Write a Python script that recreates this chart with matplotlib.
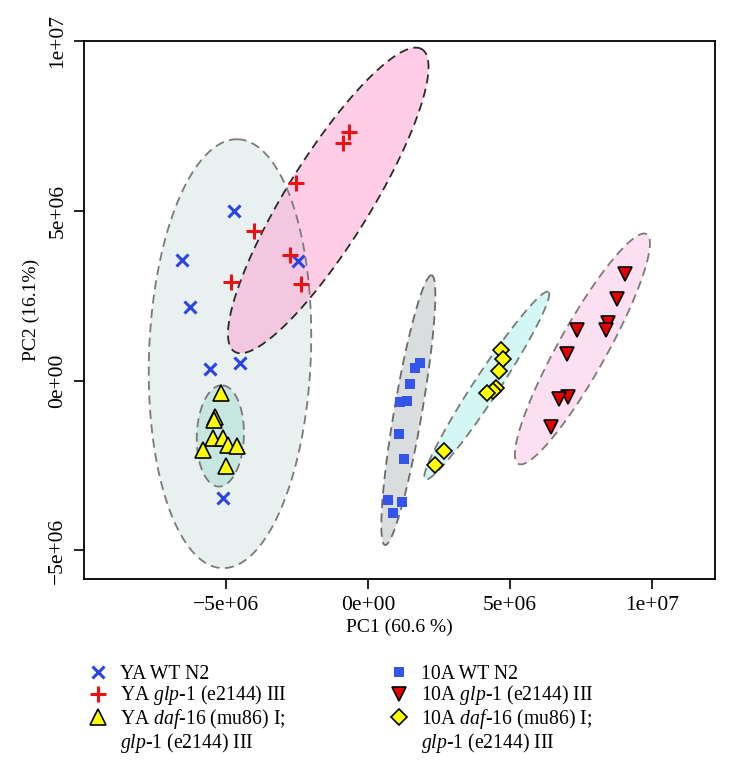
import numpy as np
import matplotlib.pyplot as plt
from matplotlib.lines import Line2D

plt.rcParams['font.family'] = ['Liberation Serif', 'DejaVu Serif']
plt.rcParams['mathtext.fontset'] = 'custom'
plt.rcParams['mathtext.rm'] = 'Liberation Serif'
plt.rcParams['mathtext.it'] = 'Liberation Serif:italic'

# PCA scores (PC1, PC2)
ya_wt_pc1 = [-4.71e6, -6.56e6, -2.45e6, -6.27e6, -5.56e6, -4.51e6, -5.12e6]
ya_wt_pc2 = [4.98e6, 3.54e6, 3.52e6, 2.17e6, 0.33e6, 0.52e6, -3.47e6]

ya_glp_pc1 = [-0.67e6, -0.87e6, -2.54e6, -4.00e6, -2.75e6, -4.82e6, -2.37e6]
ya_glp_pc2 = [7.31e6, 6.99e6, 5.80e6, 4.39e6, 3.69e6, 2.89e6, 2.84e6]

ya_daf_pc1 = [-5.18e6, -5.39e6, -5.42e6, -5.45e6, -5.12e6, -4.92e6, -4.60e6, -5.82e6, -5.00e6]
ya_daf_pc2 = [-0.38e6, -1.07e6, -1.16e6, -1.70e6, -1.70e6, -1.90e6, -1.93e6, -2.03e6, -2.52e6]

a10_wt_pc1 = [1.83e6, 1.66e6, 1.48e6, 1.38e6, 1.13e6, 1.09e6, 1.27e6, 0.72e6, 1.21e6, 0.89e6]
a10_wt_pc2 = [0.52e6, 0.36e6, -0.11e6, -0.60e6, -0.63e6, -1.56e6, -2.32e6, -3.52e6, -3.57e6, -3.91e6]

a10_glp_pc1 = [9.05e6, 8.76e6, 8.46e6, 8.37e6, 7.35e6, 7.00e6, 7.06e6, 6.74e6, 6.44e6]
a10_glp_pc2 = [3.13e6, 2.41e6, 1.68e6, 1.48e6, 1.48e6, 0.78e6, -0.48e6, -0.53e6, -1.36e6]

a10_daf_pc1 = [4.67e6, 4.77e6, 4.62e6, 4.51e6, 4.41e6, 4.18e6, 2.68e6, 2.36e6]
a10_daf_pc2 = [0.91e6, 0.62e6, 0.29e6, -0.23e6, -0.30e6, -0.38e6, -2.07e6, -2.49e6]

# ellipses: centre, end of the long axis, half width (PC1 units)
ell_cx = [-4.86e6, -1.40e6, -5.20e6, 1.42e6, 4.18e6, 7.55e6]
ell_cy = [0.79e6, 5.30e6, -1.63e6, -0.87e6, -0.15e6, 0.93e6]
ell_tx = [-4.58e6, 1.90e6, -5.14e6, 2.24e6, 6.35e6, 9.81e6]
ell_ty = [7.10e6, 9.75e6, -0.14e6, 3.10e6, 2.61e6, 4.31e6]
ell_hw = [2.85e6, 1.48e6, 0.83e6, 0.49e6, 0.44e6, 0.85e6]
ell_fill = ['#d3e2e2', '#ff9fcf', '#a8ddd0', '#b4bcbc', '#a6f0ea', '#fbc0e4']
ell_edge = ['#7a7a7a', '#2a2a2a', '#7a7a7a', '#6a6a6a', '#7a7a7a', '#7a7a7a']

xlim = (-1.0e7, 1.222e7)
ylim = (-5.84e6, 1.0e7)

fig = plt.figure(figsize=(7.3, 7.67), dpi=100)
ax = fig.add_axes([0.1151, 0.2451, 0.8644, 0.7018])
ax.set_xlim(xlim)
ax.set_ylim(ylim)

# scale so ellipses keep their shape on screen
kx = 0.8644 * 7.3 / (xlim[1] - xlim[0])
ky = 0.7018 * 7.67 / (ylim[1] - ylim[0])
t = np.linspace(0, 2 * np.pi, 300)
for cx, cy, tx, ty, hw, fc, ec in zip(ell_cx, ell_cy, ell_tx, ell_ty, ell_hw, ell_fill, ell_edge):
    ux, uy = (tx - cx) * kx, (ty - cy) * ky
    L = np.hypot(ux, uy)
    w = hw * kx
    vx, vy = -uy / L * w, ux / L * w
    X = cx + (ux * np.cos(t) + vx * np.sin(t)) / kx
    Y = cy + (uy * np.cos(t) + vy * np.sin(t)) / ky
    ax.fill(X, Y, color=fc, alpha=0.5, lw=0, zorder=1)
    ax.plot(X, Y, color=ec, lw=1.3, ls=(0, (5, 3)), zorder=2)

ax.plot(ya_wt_pc1, ya_wt_pc2, 'x', color='#2b44e6', ms=8, mew=2.2, ls='none', zorder=3)
ax.plot(ya_glp_pc1, ya_glp_pc2, '+', color='#ee1111', ms=12, mew=2.2, ls='none', zorder=3)
ax.plot(ya_daf_pc1, ya_daf_pc2, '^', mfc='#ffff00', mec='black', ms=11, mew=1.2, ls='none', zorder=3)
ax.plot(a10_wt_pc1, a10_wt_pc2, 's', color='#3355ee', ms=7.5, mew=0, ls='none', zorder=3)
ax.plot(a10_glp_pc1, a10_glp_pc2, 'v', mfc='#e80000', mec='black', ms=10, mew=1.2, ls='none', zorder=3)
ax.plot(a10_daf_pc1, a10_daf_pc2, 'D', mfc='#ffff00', mec='black', ms=8, mew=1.2, ls='none', zorder=3)

ax.set_xticks([-5e6, 0, 5e6, 1e7])
ax.set_xticklabels(['\u22125e+06', '0e+00', '5e+06', '1e+07'])
ax.set_yticks([-5e6, 0, 5e6, 1e7])
ax.set_yticklabels(['\u22125e+06', '0e+00', '5e+06', '1e+07'], rotation=90, va='center')
ax.tick_params(direction='out', length=7, width=1.2, labelsize=15.5, pad=5)
for s in ax.spines.values():
    s.set_linewidth(1.3)
ax.set_xlabel('PC1 (60.6 %)', fontsize=14, labelpad=3)
ax.set_ylabel('PC2 (16.1%)', fontsize=14, labelpad=6)

blank = Line2D([], [], ls='none')
handles = [
    Line2D([], [], marker='x', color='#2b44e6', ms=8, mew=2.2, ls='none'),
    Line2D([], [], marker='+', color='#ee1111', ms=12, mew=2.2, ls='none'),
    Line2D([], [], marker='^', mfc='#ffff00', mec='black', ms=11, mew=1.2, ls='none'),
    blank,
    Line2D([], [], marker='s', color='#3355ee', ms=7.5, mew=0, ls='none'),
    Line2D([], [], marker='v', mfc='#e80000', mec='black', ms=10, mew=1.2, ls='none'),
    Line2D([], [], marker='D', mfc='#ffff00', mec='black', ms=8, mew=1.2, ls='none'),
    blank,
]
labels = [
    'YA WT N2',
    'YA $\\it{glp}$-$\\it{1}$ (e2144) III',
    'YA $\\it{daf}$-$\\it{16}$ (mu86) I;',
    '$\\it{glp}$-$\\it{1}$ (e2144) III',
    '10A WT N2',
    '10A $\\it{glp}$-$\\it{1}$ (e2144) III',
    '10A $\\it{daf}$-$\\it{16}$ (mu86) I;',
    '$\\it{glp}$-$\\it{1}$ (e2144) III',
]
fig.legend(handles, labels, ncol=2, frameon=False, fontsize=14.2,
           loc='upper left', bbox_to_anchor=(0.105, 0.146),
           handlelength=1.2, handletextpad=0.5, labelspacing=-0.02,
           columnspacing=5.1, borderpad=0)

fig.savefig('out.png', dpi=100)
